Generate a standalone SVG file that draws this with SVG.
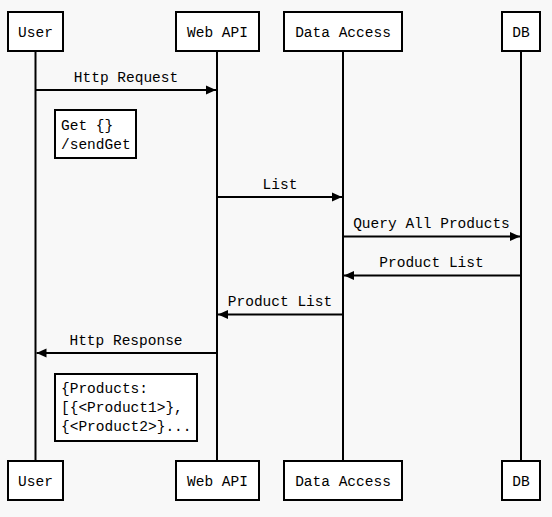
<svg xmlns="http://www.w3.org/2000/svg" width="552" height="517" viewBox="0 0 552 517">
<style>
.bg{fill:#f8f8f8}
.box{fill:#ffffff;stroke:#000;stroke-width:2}
.life{stroke:#000;stroke-width:2;fill:none}
.msg{stroke:#000;stroke-width:2;fill:none}
text{font-family:"Liberation Mono","DejaVu Sans Mono",monospace;font-size:14.5px;fill:#000}
.c{text-anchor:middle}
</style>
<defs>
<marker id="ah" markerWidth="10" markerHeight="10" refX="10" refY="5" orient="auto" markerUnits="userSpaceOnUse">
<path d="M0,0.5 L10,5 L0,9.5 Z" fill="#000"/>
</marker>
</defs>
<rect class="bg" x="0" y="0" width="552" height="517"/>
<g id="lifelines">
<line class="life" x1="35.5" y1="51" x2="35.5" y2="461"/>
<line class="life" x1="217" y1="51" x2="217" y2="461"/>
<line class="life" x1="343" y1="51" x2="343" y2="461"/>
<line class="life" x1="521" y1="51" x2="521" y2="461"/>
</g>
<g id="node-user-top"><rect class="box" x="8" y="12" width="55" height="39"/><text class="c" x="35.5" y="36.5">User</text></g>
<g id="node-webapi-top"><rect class="box" x="176" y="12" width="83" height="39"/><text class="c" x="217.5" y="36.5">Web API</text></g>
<g id="node-dataaccess-top"><rect class="box" x="284" y="12" width="118" height="39"/><text class="c" x="343" y="36.5">Data Access</text></g>
<g id="node-db-top"><rect class="box" x="502" y="12" width="38" height="39"/><text class="c" x="521" y="36.5">DB</text></g>
<g id="node-user-bottom"><rect class="box" x="8" y="461" width="55" height="39"/><text class="c" x="35.5" y="485.5">User</text></g>
<g id="node-webapi-bottom"><rect class="box" x="176" y="461" width="83" height="39"/><text class="c" x="217.5" y="485.5">Web API</text></g>
<g id="node-dataaccess-bottom"><rect class="box" x="284" y="461" width="118" height="39"/><text class="c" x="343" y="485.5">Data Access</text></g>
<g id="node-db-bottom"><rect class="box" x="502" y="461" width="38" height="39"/><text class="c" x="521" y="485.5">DB</text></g>
<g id="note-get"><rect class="box" x="55" y="110" width="81" height="48"/><text x="61" y="130">Get {}</text><text x="61" y="149">/sendGet</text></g>
<g id="note-products"><rect class="box" x="55" y="374" width="142" height="67"/><text x="61" y="393">{Products:</text><text x="61" y="412">[{&lt;Product1&gt;},</text><text x="61" y="431">{&lt;Product2&gt;}...</text></g>
<g id="connectors">
<line class="msg" x1="35.5" y1="90" x2="216" y2="90" marker-end="url(#ah)"/>
<text class="c" x="126" y="82">Http Request</text>
<line class="msg" x1="217" y1="197" x2="342" y2="197" marker-end="url(#ah)"/>
<text class="c" x="280" y="188.5">List</text>
<line class="msg" x1="343" y1="236.5" x2="520" y2="236.5" marker-end="url(#ah)"/>
<text class="c" x="431.5" y="228">Query All Products</text>
<line class="msg" x1="521" y1="275.5" x2="344" y2="275.5" marker-end="url(#ah)"/>
<text class="c" x="431.5" y="267">Product List</text>
<line class="msg" x1="343" y1="314.5" x2="218" y2="314.5" marker-end="url(#ah)"/>
<text class="c" x="280" y="306">Product List</text>
<line class="msg" x1="217" y1="353" x2="36.5" y2="353" marker-end="url(#ah)"/>
<text class="c" x="126" y="345">Http Response</text>
</g>
</svg>
